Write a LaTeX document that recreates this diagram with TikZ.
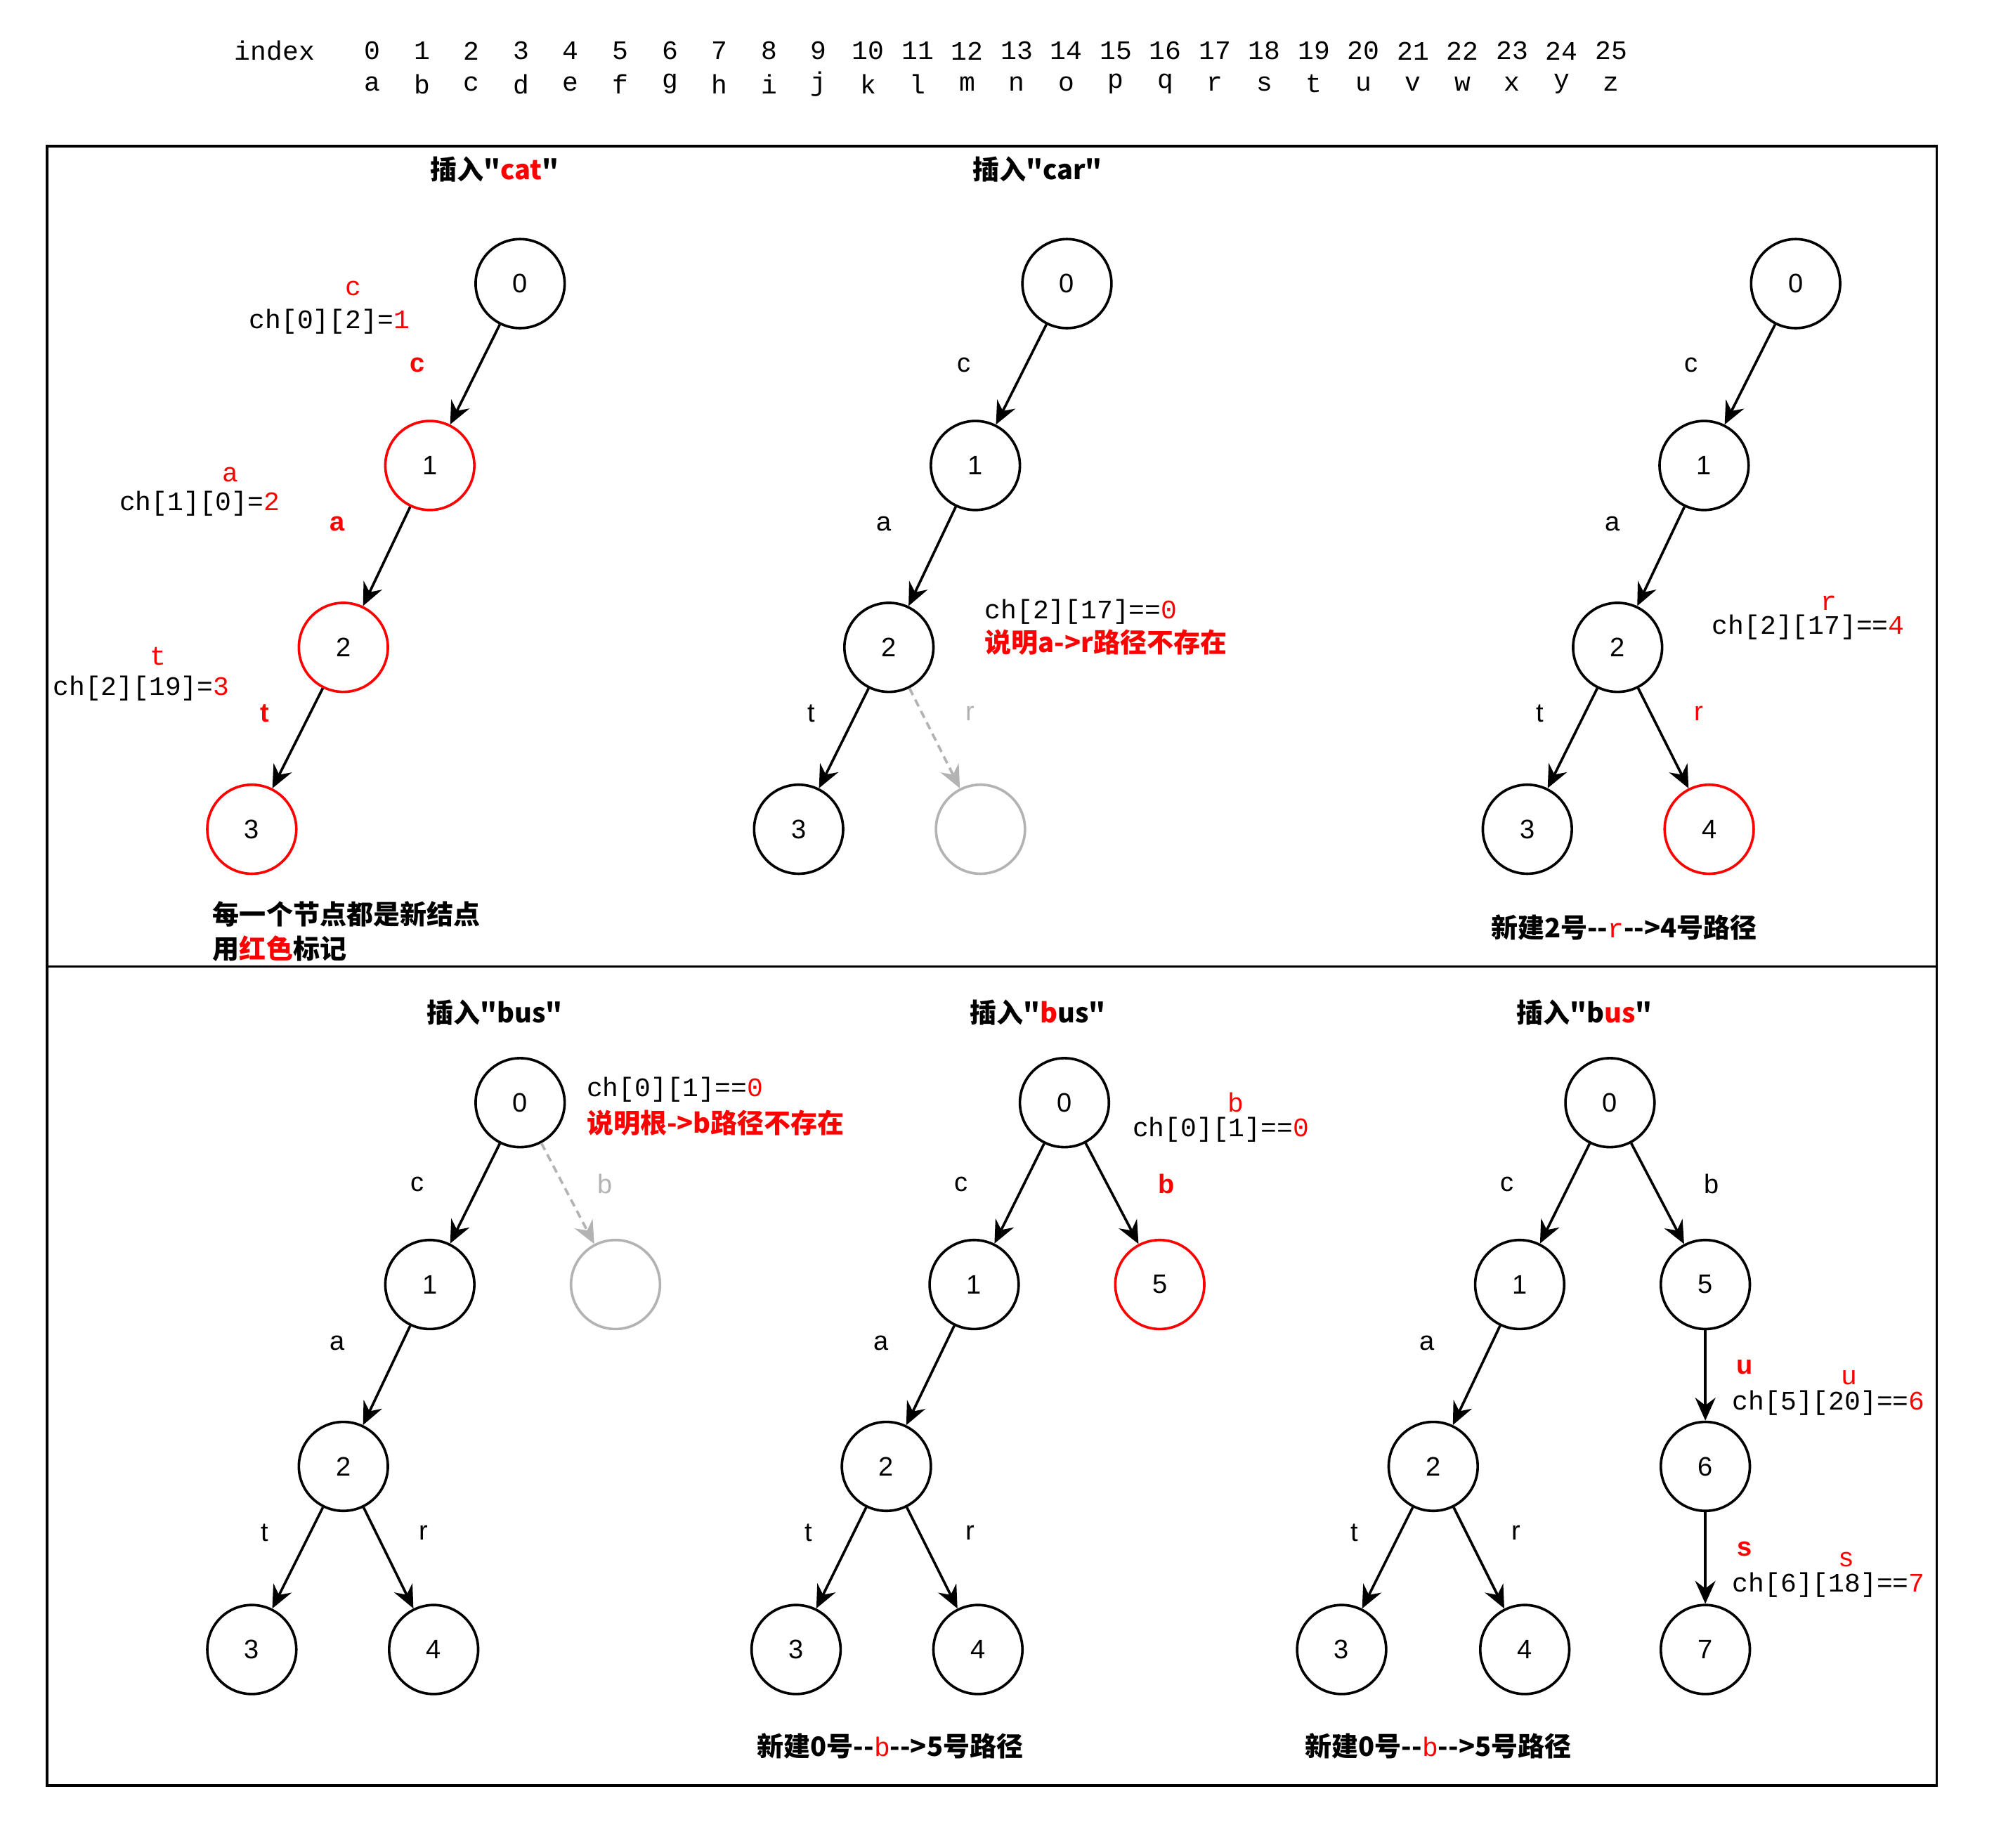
\documentclass[tikz,border=0pt]{standalone}
\usepackage{fontspec}
\setmainfont{Liberation Sans}
\setmonofont{Liberation Mono}
\newfontfamily\cjk{Noto Sans CJK SC}
\usepackage{xcolor}
\definecolor{ghostgray}{HTML}{B3B3B3}
\usetikzlibrary{arrows.meta}

\begin{document}
\begin{tikzpicture}[
  x=0.5pt,
  y=-0.5pt,
  every node/.style={font=\fontsize{10.5}{12}\selectfont},
  tnode/.style={circle, draw=black, line width=1pt, minimum size=35pt, inner sep=0pt},
  newnode/.style={tnode, draw=red},
  ghost/.style={tnode, draw=ghostgray},
  edge/.style={line width=1pt, -{Stealth[length=9pt, width=8pt, inset=3pt]}},
  ghostedge/.style={edge, ghostgray, dash pattern=on 3pt off 2pt},
  lbl/.style={inner sep=1pt},
  redlbl/.style={lbl, text=red, font=\fontsize{10.5}{12}\selectfont\bfseries},
  code/.style={inner sep=1pt, font=\fontsize{10.5}{12}\selectfont\ttfamily},
  redcode/.style={code, text=red},
  title/.style={inner sep=1pt, font=\fontsize{10.5}{12}\selectfont\cjk\bfseries},
  note/.style={title, anchor=west},
]
\useasboundingbox (0,0) rectangle (1568,1453);

% Index header
\node[code] (idx) at (216,40) {index};
\foreach \ch [count=\k from 0] in {a,...,z} {
  \node[code] (n\k) at ({293+38.96*\k},40) {\k};
  \node[code] (c\k) at ({293+38.96*\k},66) {\ch};
}

% Frames
\draw[line width=1pt] (37,115) rectangle (1523,1404);
\draw[line width=1pt] (37,760) -- (1523,760);

% ---- Insert "cat"
\node[title] (tcat) at (389,133) {插入"\textcolor{red}{cat}"};
\node[tnode]   (a0) at (409,223) {0};
\node[newnode] (a1) at (338,366) {1};
\node[newnode] (a2) at (270,509) {2};
\node[newnode] (a3) at (198,652) {3};
\draw[edge] (a0) -- (a1);
\draw[edge] (a1) -- (a2);
\draw[edge] (a2) -- (a3);
\node[redlbl] (la1) at (328,287) {c};
\node[redlbl] (la2) at (265,412) {a};
\node[redlbl] (la3) at (208,561) {t};
\node[redcode] (ka1) at (278,227) {c};
\node[code] (ca1) at (259,253) {ch[0][2]=\textcolor{red}{1}};
\node[redcode] (ka2) at (181,373) {a};
\node[code] (ca2) at (157,396) {ch[1][0]=\textcolor{red}{2}};
\node[redcode] (ka3) at (124,516) {t};
\node[code] (ca3) at (111,541) {ch[2][19]=\textcolor{red}{3}};
\node[note] (na1) at (165,719) {每一个节点都是新结点};
\node[note] (na2) at (165,746) {用\textcolor{red}{红色}标记};

% ---- Insert "car", lookup
\node[title] (tcar) at (816,133) {插入"car"};
\node[tnode] (b0) at (839,223) {0};
\node[tnode] (b1) at (767,366) {1};
\node[tnode] (b2) at (699,509) {2};
\node[tnode] (b3) at (628,652) {3};
\node[ghost] (bx) at (771,652) {};
\draw[edge] (b0) -- (b1);
\draw[edge] (b1) -- (b2);
\draw[edge] (b2) -- (b3);
\draw[ghostedge] (b2) -- (bx);
\node[lbl] (lb1) at (758,287) {c};
\node[lbl] (lb2) at (695,412) {a};
\node[lbl] (lb3) at (638,561) {t};
\node[lbl, text=ghostgray] (lbx) at (763,561) {r};
\node[code, anchor=west] (cb1) at (772,481) {ch[2][17]==\textcolor{red}{0}};
\node[note, text=red] (nb1) at (772,505) {说明a->r路径不存在};

% ---- Insert "car", new path
\node[tnode]   (c0n) at (1412,223) {0};
\node[tnode]   (c1n) at (1340,366) {1};
\node[tnode]   (c2n) at (1272,509) {2};
\node[tnode]   (c3n) at (1201,652) {3};
\node[newnode] (c4n) at (1344,652) {4};
\draw[edge] (c0n) -- (c1n);
\draw[edge] (c1n) -- (c2n);
\draw[edge] (c2n) -- (c3n);
\draw[edge] (c2n) -- (c4n);
\node[lbl] (lc1) at (1330,287) {c};
\node[lbl] (lc2) at (1268,412) {a};
\node[lbl] (lc3) at (1211,561) {t};
\node[lbl, text=red] (lc4) at (1336,561) {r};
\node[redcode] (kc4) at (1438,474) {r};
\node[code] (cc4) at (1422,493) {ch[2][17]==\textcolor{red}{4}};
\node[title] (nc4) at (1277,729) {新建2号-\kern0pt-\textcolor{red}{\ttfamily\mdseries r}-\kern0pt->4号路径};

% ---- Insert "bus", lookup
\node[title] (tbus1) at (389,796) {插入"bus"};
\node[tnode] (d0) at (409,867) {0};
\node[tnode] (d1) at (338,1010) {1};
\node[tnode] (d2) at (270,1153) {2};
\node[tnode] (d3) at (198,1297) {3};
\node[tnode] (d4) at (341,1297) {4};
\node[ghost] (dx) at (484,1010) {};
\draw[edge] (d0) -- (d1);
\draw[edge] (d1) -- (d2);
\draw[edge] (d2) -- (d3);
\draw[edge] (d2) -- (d4);
\draw[ghostedge] (d0) -- (dx);
\node[lbl] (ld1) at (328,931) {c};
\node[lbl] (ld2) at (265,1056) {a};
\node[lbl] (ld3) at (208,1205) {t};
\node[lbl] (ld4) at (333,1205) {r};
\node[lbl, text=ghostgray] (ldx) at (476,931) {b};
\node[code, anchor=west] (cd1) at (459,857) {ch[0][1]==\textcolor{red}{0}};
\node[note, text=red] (nd1) at (459,883) {说明根->b路径不存在};

% ---- Insert "bus", new node 5
\node[title] (tbus2) at (816,796) {插入"\textcolor{red}{b}us"};
\node[tnode]   (e0) at (837,867) {0};
\node[tnode]   (e1) at (766,1010) {1};
\node[newnode] (e5) at (912,1010) {5};
\node[tnode]   (e2) at (697,1153) {2};
\node[tnode]   (e3) at (626,1297) {3};
\node[tnode]   (e4) at (769,1297) {4};
\draw[edge] (e0) -- (e1);
\draw[edge] (e0) -- (e5);
\draw[edge] (e1) -- (e2);
\draw[edge] (e2) -- (e3);
\draw[edge] (e2) -- (e4);
\node[lbl] (le1) at (756,931) {c};
\node[redlbl] (le5) at (917,931) {b};
\node[lbl] (le2) at (693,1056) {a};
\node[lbl] (le3) at (636,1205) {t};
\node[lbl] (le4) at (763,1205) {r};
\node[redcode] (ke5) at (972,867) {b};
\node[code] (ce5) at (960,888) {ch[0][1]==\textcolor{red}{0}};
\node[title] (ne5) at (700,1373) {新建0号-\kern0pt-\textcolor{red}{\ttfamily\mdseries b}-\kern0pt->5号路径};

% ---- Insert "bus", new nodes 6 and 7
\node[title] (tbus3) at (1246,796) {插入"b\textcolor{red}{us}"};
\node[tnode] (f0) at (1266,867) {0};
\node[tnode] (f1) at (1195,1010) {1};
\node[tnode] (f5) at (1341,1010) {5};
\node[tnode] (f2) at (1127,1153) {2};
\node[tnode] (f3) at (1055,1297) {3};
\node[tnode] (f4) at (1199,1297) {4};
\node[tnode] (f6) at (1341,1153) {6};
\node[tnode] (f7) at (1341,1297) {7};
\draw[edge] (f0) -- (f1);
\draw[edge] (f0) -- (f5);
\draw[edge] (f1) -- (f2);
\draw[edge] (f2) -- (f3);
\draw[edge] (f2) -- (f4);
\draw[edge] (f5) -- (f6);
\draw[edge] (f6) -- (f7);
\node[lbl] (lf1) at (1185,931) {c};
\node[lbl] (lf5) at (1346,931) {b};
\node[lbl] (lf2) at (1122,1056) {a};
\node[lbl] (lf3) at (1065,1205) {t};
\node[lbl] (lf4) at (1192,1205) {r};
\node[redlbl] (lf6) at (1372,1075) {u};
\node[redlbl] (lf7) at (1372,1218) {s};
\node[redcode] (kf6) at (1454,1083) {u};
\node[code] (cf6) at (1438,1103) {ch[5][20]==\textcolor{red}{6}};
\node[redcode] (kf7) at (1452,1226) {s};
\node[code] (cf7) at (1438,1246) {ch[6][18]==\textcolor{red}{7}};
\node[title] (nf7) at (1131,1373) {新建0号-\kern0pt-\textcolor{red}{\ttfamily\mdseries b}-\kern0pt->5号路径};

\end{tikzpicture}
\end{document}
